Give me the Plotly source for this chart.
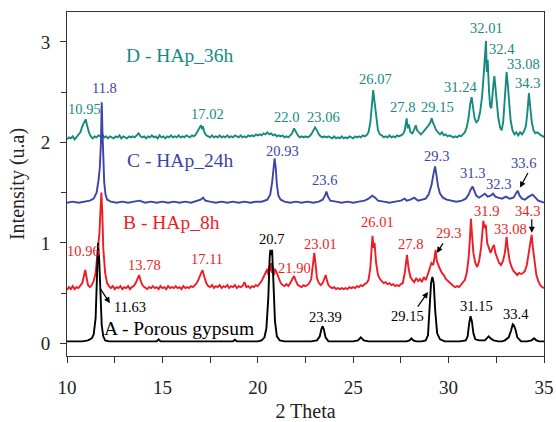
import plotly.graph_objects as go

# ---------------- data ----------------
# A - Porous gypsum (black)
A_x = [10.0, 10.4, 10.8, 11.1, 11.3, 11.4, 11.5, 11.56, 11.63, 11.69, 11.75, 11.82, 11.9, 12.0, 12.2, 12.6,
       13.0, 13.5, 14.0, 14.5, 14.7, 14.8, 14.9, 15.3, 15.8, 16.3, 16.8, 17.3, 17.8, 18.3, 18.7, 18.8, 18.9,
       19.3, 19.7, 20.0, 20.2, 20.35, 20.45, 20.55, 20.62, 20.66, 20.7, 20.75, 20.82, 20.9, 21.0, 21.15, 21.4,
       21.8, 22.3, 22.8, 23.1, 23.25, 23.33, 23.39, 23.46, 23.55, 23.7, 24.0, 24.5, 25.0, 25.25, 25.4, 25.55,
       25.8, 26.3, 26.8, 27.3, 27.8, 27.95, 28.05, 28.15, 28.3, 28.6, 28.8, 28.92, 29.02, 29.08, 29.15, 29.22,
       29.3, 29.4, 29.55, 29.8, 30.2, 30.6, 30.9, 31.0, 31.08, 31.15, 31.22, 31.3, 31.4, 31.6, 31.9, 32.0,
       32.1, 32.2, 32.35, 32.6, 32.8, 32.95, 33.15, 33.28, 33.36, 33.42, 33.5, 33.6, 33.8, 34.1, 34.35, 34.48,
       34.6, 34.75, 35.0]
A_y = [0.02, 0.02, 0.02, 0.03, 0.05, 0.09, 0.25, 0.6, 1.0, 0.82, 0.45, 0.18, 0.07, 0.03, 0.02, 0.02,
       0.02, 0.02, 0.02, 0.02, 0.02, 0.04, 0.02, 0.02, 0.02, 0.02, 0.02, 0.02, 0.02, 0.02, 0.02, 0.035, 0.02,
       0.02, 0.02, 0.02, 0.03, 0.06, 0.15, 0.45, 0.85, 0.93, 0.88, 0.93, 0.6, 0.22, 0.07, 0.03, 0.02,
       0.02, 0.02, 0.02, 0.03, 0.07, 0.14, 0.17, 0.14, 0.06, 0.02, 0.02, 0.02, 0.02, 0.03, 0.06, 0.03,
       0.02, 0.02, 0.02, 0.02, 0.02, 0.03, 0.05, 0.03, 0.02, 0.02, 0.03, 0.08, 0.35, 0.6, 0.66, 0.6,
       0.32, 0.1, 0.04, 0.02, 0.02, 0.02, 0.03, 0.07, 0.2, 0.27, 0.22, 0.1, 0.04, 0.03, 0.03, 0.05,
       0.07, 0.05, 0.03, 0.02, 0.02, 0.03, 0.06, 0.13, 0.19, 0.18, 0.14, 0.06, 0.02, 0.02, 0.03, 0.05,
       0.03, 0.02, 0.02]

# B - HAp_8h (red)
B_x = [10.0, 10.1, 10.2, 10.3, 10.4, 10.5, 10.6, 10.7, 10.8, 10.9, 10.96, 11.02, 11.1, 11.2, 11.3, 11.4,
       11.5, 11.6, 11.7, 11.75, 11.8, 11.85, 11.9, 12.0, 12.1, 12.2, 12.3, 12.4, 12.5, 12.6, 12.7, 12.8,
       12.9, 13.0, 13.1, 13.2, 13.3, 13.4, 13.5, 13.6, 13.7, 13.78, 13.85, 13.95, 14.05, 14.2, 14.3, 14.4,
       14.5, 14.6, 14.7, 14.8, 14.9, 15.0, 15.1, 15.2, 15.3, 15.4, 15.5, 15.6, 15.7, 15.8, 15.9, 16.0,
       16.1, 16.2, 16.3, 16.4, 16.5, 16.6, 16.7, 16.8, 16.9, 17.0, 17.1, 17.2, 17.3, 17.4, 17.5, 17.6,
       17.7, 17.8, 17.9, 18.0, 18.1, 18.2, 18.3, 18.4, 18.5, 18.6, 18.7, 18.8, 18.9, 19.0, 19.1, 19.2,
       19.3, 19.4, 19.5, 19.6, 19.7, 19.8, 19.9, 20.0, 20.1, 20.2, 20.3, 20.4, 20.5, 20.55, 20.6, 20.65,
       20.7, 20.75, 20.8, 20.85, 20.9, 21.0, 21.1, 21.2, 21.3, 21.4, 21.5, 21.6, 21.7, 21.8, 21.9, 22.0,
       22.1, 22.2, 22.3, 22.4, 22.5, 22.6, 22.7, 22.8, 22.9, 22.96, 23.02, 23.1, 23.2, 23.3, 23.4, 23.5,
       23.56, 23.62, 23.7, 23.8, 23.9, 24.0, 24.1, 24.2, 24.3, 24.4, 24.5, 24.6, 24.7, 24.8, 24.9, 25.0,
       25.1, 25.2, 25.3, 25.4, 25.5, 25.6, 25.7, 25.8, 25.9, 25.95, 26.01, 26.07, 26.12, 26.2, 26.3, 26.4,
       26.5, 26.6, 26.7, 26.8, 26.9, 27.0, 27.1, 27.2, 27.3, 27.4, 27.5, 27.6, 27.7, 27.76, 27.82, 27.9,
       28.0, 28.1, 28.2, 28.3, 28.4, 28.5, 28.6, 28.7, 28.8, 28.9, 29.0, 29.1, 29.2, 29.27, 29.32, 29.38,
       29.45, 29.55, 29.65, 29.75, 29.85, 29.95, 30.05, 30.15, 30.25, 30.35, 30.45, 30.55, 30.65, 30.75, 30.85, 30.95,
       31.05, 31.12, 31.17, 31.22, 31.3, 31.4, 31.5, 31.6, 31.7, 31.77, 31.82, 31.88, 31.95, 32.02, 32.1, 32.2,
       32.3, 32.38, 32.45, 32.55, 32.65, 32.75, 32.85, 32.95, 33.04, 33.1, 33.2, 33.3, 33.4, 33.5, 33.6, 33.7,
       33.8, 33.9, 34.0, 34.1, 34.2, 34.3, 34.35, 34.42, 34.5, 34.6, 34.7, 34.8, 34.9, 35.0]
B_y = [0.53, 0.56, 0.54, 0.57, 0.54, 0.56, 0.55, 0.57, 0.6, 0.68, 0.73, 0.66, 0.58, 0.56, 0.58, 0.62,
       0.7, 0.9, 1.1, 1.3, 1.5, 1.3, 0.95, 0.7, 0.6, 0.57, 0.55, 0.57, 0.54, 0.56, 0.55, 0.57,
       0.54, 0.56, 0.55, 0.57, 0.54, 0.56, 0.57, 0.6, 0.65, 0.68, 0.63, 0.58, 0.56, 0.54, 0.56, 0.55,
       0.57, 0.55, 0.56, 0.54, 0.57, 0.55, 0.56, 0.54, 0.57, 0.55, 0.56, 0.55, 0.57, 0.55, 0.56, 0.54,
       0.57, 0.55, 0.56, 0.55, 0.57, 0.56, 0.58, 0.6, 0.64, 0.69, 0.73, 0.66, 0.6, 0.57, 0.56, 0.58,
       0.55, 0.57, 0.56, 0.58, 0.55, 0.57, 0.56, 0.58, 0.55, 0.57, 0.56, 0.58, 0.55, 0.57, 0.56, 0.57,
       0.61, 0.56, 0.57, 0.55, 0.57, 0.56, 0.58, 0.57, 0.59, 0.62, 0.66, 0.7, 0.74, 0.68, 0.77, 0.72,
       0.8, 0.7, 0.76, 0.68, 0.74, 0.7, 0.64, 0.6, 0.58, 0.57, 0.59, 0.57, 0.6, 0.63, 0.67, 0.62,
       0.58, 0.57, 0.56, 0.58, 0.57, 0.58, 0.6, 0.64, 0.78, 0.9, 0.8, 0.65, 0.6, 0.58, 0.6, 0.65,
       0.68, 0.63, 0.58, 0.56, 0.55, 0.56, 0.54, 0.55, 0.54, 0.55, 0.54, 0.55, 0.54, 0.56, 0.55, 0.56,
       0.55, 0.57, 0.56, 0.58, 0.57, 0.59, 0.6, 0.63, 0.75, 0.9, 1.07, 0.95, 1.0, 0.8, 0.68, 0.64,
       0.62, 0.6, 0.61, 0.59, 0.6, 0.58, 0.59, 0.57, 0.58, 0.57, 0.59, 0.6, 0.7, 0.82, 0.88, 0.75,
       0.66, 0.63, 0.61, 0.65, 0.62, 0.64, 0.61, 0.66, 0.63, 0.68, 0.73, 0.8, 0.78, 0.86, 0.93, 0.82,
       0.78, 0.74, 0.7, 0.68, 0.64, 0.62, 0.6, 0.58, 0.57, 0.56, 0.57, 0.56, 0.58, 0.6, 0.63, 0.7,
       0.85, 1.05, 1.24, 1.1, 0.9, 0.8, 0.76, 0.82, 0.95, 1.1, 1.22, 1.15, 1.18, 1.0, 0.95, 0.9,
       0.95, 0.98, 0.9, 0.85, 0.8, 0.78, 0.82, 0.9, 1.06, 0.95, 0.82, 0.76, 0.72, 0.7, 0.68, 0.7,
       0.69, 0.7, 0.72, 0.78, 0.9, 1.02, 1.08, 0.95, 0.8, 0.68, 0.62, 0.58, 0.56, 0.55]

# C - HAp_24h (blue)
C_x = [10.0, 10.3, 10.6, 10.9, 11.2, 11.4, 11.55, 11.65, 11.72, 11.78, 11.82, 11.86, 11.9, 11.95, 12.02, 12.1,
       12.3, 12.6, 12.9, 13.2, 13.5, 13.8, 14.1, 14.4, 14.7, 15.0, 15.3, 15.6, 15.9, 16.2, 16.5, 16.8,
       17.0, 17.13, 17.25, 17.5, 17.8, 18.1, 18.4, 18.7, 19.0, 19.3, 19.6, 19.9, 20.2, 20.5, 20.65, 20.75,
       20.82, 20.88, 20.94, 21.0, 21.08, 21.2, 21.4, 21.7, 22.0, 22.3, 22.6, 22.9, 23.2, 23.4, 23.52, 23.6,
       23.68, 23.8, 24.1, 24.4, 24.7, 25.0, 25.3, 25.6, 25.8, 26.0, 26.15, 26.3, 26.6, 26.9, 27.2, 27.5,
       27.7, 27.8, 28.0, 28.2, 28.4, 28.6, 28.8, 28.95, 29.1, 29.2, 29.29, 29.36, 29.45, 29.55, 29.7, 29.9,
       30.1, 30.4, 30.7, 30.9, 31.05, 31.15, 31.26, 31.35, 31.45, 31.6, 31.75, 31.9, 32.05, 32.2, 32.33, 32.45,
       32.6, 32.8, 33.0, 33.2, 33.4, 33.52, 33.62, 33.72, 33.85, 34.0, 34.2, 34.4, 34.55, 34.7, 34.85, 35.0]
C_y = [1.40, 1.41, 1.40, 1.41, 1.42, 1.44, 1.5, 1.62, 1.75, 2.0, 2.40, 2.1, 1.8, 1.6, 1.48, 1.43,
       1.41, 1.40, 1.41, 1.40, 1.41, 1.42, 1.40, 1.41, 1.40, 1.41, 1.40, 1.41, 1.40, 1.41, 1.40, 1.42,
       1.43, 1.45, 1.42, 1.41, 1.40, 1.41, 1.40, 1.41, 1.40, 1.41, 1.40, 1.41, 1.41, 1.43, 1.48, 1.6,
       1.75, 1.84, 1.75, 1.58, 1.47, 1.43, 1.41, 1.40, 1.41, 1.40, 1.41, 1.40, 1.41, 1.43, 1.47, 1.51,
       1.46, 1.42, 1.41, 1.40, 1.41, 1.40, 1.41, 1.42, 1.44, 1.47, 1.45, 1.42, 1.41, 1.40, 1.41, 1.42,
       1.44, 1.42, 1.43, 1.45, 1.42, 1.43, 1.44, 1.48, 1.57, 1.68, 1.76, 1.68, 1.56, 1.49, 1.45, 1.43,
       1.42, 1.41, 1.42, 1.44, 1.48, 1.53, 1.56, 1.52, 1.47, 1.45, 1.47, 1.49, 1.46, 1.47, 1.49, 1.46,
       1.45, 1.44, 1.46, 1.44, 1.45, 1.49, 1.52, 1.47, 1.44, 1.43, 1.46, 1.48, 1.45, 1.42, 1.41, 1.40]

# D - HAp_36h (teal)
D_x = [10.0, 10.1, 10.2, 10.3, 10.4, 10.5, 10.6, 10.7, 10.8, 10.9, 10.98, 11.05, 11.15, 11.25, 11.35, 11.45,
       11.55, 11.65, 11.75, 11.85, 11.95, 12.05, 12.15, 12.25, 12.35, 12.45, 12.55, 12.65, 12.75, 12.85, 12.95, 13.05,
       13.15, 13.25, 13.35, 13.45, 13.55, 13.65, 13.75, 13.85, 13.95, 14.05, 14.15, 14.25, 14.35, 14.45, 14.55, 14.65,
       14.75, 14.85, 14.95, 15.05, 15.15, 15.25, 15.35, 15.45, 15.55, 15.65, 15.75, 15.85, 15.95, 16.05, 16.15, 16.25,
       16.35, 16.45, 16.55, 16.65, 16.75, 16.85, 16.95, 17.02, 17.08, 17.12, 17.2, 17.3, 17.4, 17.5, 17.6, 17.7,
       17.8, 17.9, 18.0, 18.1, 18.2, 18.3, 18.4, 18.5, 18.6, 18.7, 18.8, 18.9, 19.0, 19.1, 19.2, 19.3,
       19.4, 19.5, 19.6, 19.7, 19.8, 19.9, 20.0, 20.1, 20.2, 20.3, 20.4, 20.5, 20.6, 20.7, 20.8, 20.9,
       21.0, 21.1, 21.2, 21.3, 21.4, 21.5, 21.6, 21.7, 21.8, 21.9, 22.0, 22.1, 22.2, 22.3, 22.4, 22.5,
       22.6, 22.7, 22.8, 22.9, 23.0, 23.1, 23.2, 23.3, 23.4, 23.5, 23.6, 23.7, 23.8, 23.9, 24.0, 24.1,
       24.2, 24.3, 24.4, 24.5, 24.6, 24.7, 24.8, 24.9, 25.0, 25.1, 25.2, 25.3, 25.4, 25.5, 25.6, 25.7,
       25.8, 25.9, 25.97, 26.05, 26.12, 26.2, 26.3, 26.4, 26.5, 26.6, 26.7, 26.8, 26.9, 27.0, 27.1, 27.2,
       27.3, 27.4, 27.5, 27.6, 27.7, 27.8, 27.86, 27.92, 28.0, 28.1, 28.2, 28.28, 28.35, 28.45, 28.55, 28.65,
       28.75, 28.85, 28.95, 29.05, 29.11, 29.18, 29.25, 29.35, 29.45, 29.55, 29.65, 29.75, 29.85, 29.95, 30.05, 30.15,
       30.25, 30.35, 30.45, 30.55, 30.65, 30.75, 30.85, 30.95, 31.05, 31.13, 31.21, 31.28, 31.36, 31.45, 31.55, 31.65,
       31.75, 31.83, 31.9, 31.96, 32.0, 32.05, 32.12, 32.18, 32.24, 32.3, 32.36, 32.4, 32.46, 32.52, 32.6, 32.7,
       32.78, 32.86, 32.93, 32.98, 33.04, 33.1, 33.17, 33.25, 33.35, 33.45, 33.55, 33.65, 33.75, 33.85, 33.95, 34.05,
       34.13, 34.21, 34.28, 34.36, 34.45, 34.55, 34.65, 34.75, 34.85, 34.95, 35.0]
D_y = [2.03, 2.05, 2.04, 2.06, 2.03, 2.05, 2.07, 2.1, 2.16, 2.21, 2.23, 2.17, 2.1, 2.06, 2.04, 2.06,
       2.05, 2.07, 2.06, 2.08, 2.05, 2.06, 2.04, 2.06, 2.05, 2.04, 2.06, 2.05, 2.07, 2.04, 2.06, 2.05,
       2.04, 2.06, 2.05, 2.06, 2.05, 2.07, 2.09, 2.06, 2.05, 2.06, 2.04, 2.06, 2.05, 2.07, 2.05, 2.06,
       2.04, 2.07, 2.05, 2.06, 2.04, 2.06, 2.05, 2.07, 2.05, 2.06, 2.05, 2.07, 2.05, 2.06, 2.05, 2.07,
       2.06, 2.05, 2.07, 2.06, 2.08, 2.11, 2.15, 2.17, 2.13, 2.16, 2.1, 2.07, 2.06, 2.05, 2.07, 2.05,
       2.06, 2.05, 2.07, 2.05, 2.06, 2.05, 2.07, 2.05, 2.06, 2.05, 2.07, 2.06, 2.05, 2.07, 2.05, 2.06,
       2.05, 2.07, 2.06, 2.07, 2.06, 2.08, 2.07, 2.08, 2.07, 2.09, 2.08, 2.1, 2.08, 2.09, 2.07, 2.08,
       2.06, 2.07, 2.06, 2.07, 2.05, 2.06, 2.05, 2.07, 2.09, 2.14, 2.1, 2.07, 2.05, 2.06, 2.05, 2.06,
       2.05, 2.06, 2.08, 2.12, 2.15, 2.12, 2.08, 2.06, 2.05, 2.06, 2.05, 2.06, 2.05, 2.04, 2.06, 2.04,
       2.05, 2.04, 2.06, 2.04, 2.05, 2.04, 2.06, 2.05, 2.04, 2.06, 2.05, 2.06, 2.05, 2.07, 2.06, 2.07,
       2.1, 2.2, 2.38, 2.52, 2.4, 2.25, 2.12, 2.08, 2.07, 2.05, 2.06, 2.05, 2.07, 2.05, 2.06, 2.05,
       2.07, 2.06, 2.07, 2.08, 2.12, 2.24, 2.14, 2.18, 2.1, 2.09, 2.13, 2.17, 2.12, 2.1, 2.08, 2.1,
       2.12, 2.14, 2.17, 2.2, 2.24, 2.2, 2.16, 2.12, 2.1, 2.08, 2.1, 2.07, 2.08, 2.06, 2.07, 2.06,
       2.05, 2.06, 2.05, 2.07, 2.06, 2.08, 2.1, 2.15, 2.25, 2.38, 2.45, 2.35, 2.24, 2.2, 2.22, 2.3,
       2.45, 2.65, 2.85, 3.01, 2.7, 2.82, 2.5, 2.36, 2.34, 2.5, 2.6, 2.66, 2.55, 2.4, 2.25, 2.15,
       2.12, 2.2, 2.4, 2.58, 2.7, 2.58, 2.4, 2.22, 2.12, 2.08, 2.1, 2.07, 2.1, 2.08, 2.11, 2.16,
       2.3, 2.49, 2.35, 2.2, 2.12, 2.09, 2.1, 2.08, 2.07, 2.06, 2.05]

# peak labels: (text, x, y)
D_labels = [("10.95", 10.94, 2.33), ("17.02", 17.34, 2.28), ("22.0", 21.53, 2.25), ("23.06", 23.42, 2.25),
            ("26.07", 26.19, 2.63), ("27.8", 27.56, 2.35), ("29.15", 29.44, 2.35), ("31.24", 30.6, 2.55),
            ("32.01", 32.01, 3.14), ("32.4", 32.8, 2.93), ("33.08", 33.95, 2.78), ("34.3", 34.16, 2.59)]
C_labels = [("11.8", 11.99, 2.54), ("20.93", 21.27, 1.91), ("23.6", 23.52, 1.63), ("29.3", 29.34, 1.86),
            ("31.3", 31.23, 1.70), ("32.3", 32.64, 1.59), ("33.6", 33.95, 1.80)]
B_labels = [("10.96", 10.89, 0.92), ("13.78", 14.04, 0.78), ("17.11", 17.34, 0.84), ("21.90", 21.9, 0.75),
            ("23.01", 23.26, 0.99), ("26.01", 26.25, 1.21), ("27.8", 27.98, 0.99), ("29.3", 30.02, 1.10),
            ("31.9", 31.96, 1.32), ("33.08", 33.22, 1.14), ("34.3", 34.16, 1.32)]
A_labels = [("20.7", 20.74, 1.04), ("11.63", 13.3, 0.36), ("23.39", 23.57, 0.26), ("29.15", 27.82, 0.27),
            ("31.15", 31.44, 0.37), ("33.4", 33.53, 0.29)]

# series names: (text, x, y)
series_names = [("D - HAp_36h", 15.92, 2.87), ("C - HAp_24h", 15.92, 1.82),
                ("B - HAp_8h", 15.5, 1.20), ("A - Porous gypsum", 15.87, 0.15)]

# arrows: (head x, head y, tail x, tail y)
arrows = [(33.74, 1.55, 34.2, 1.71), (29.38, 0.90, 29.76, 1.01), (34.36, 1.10, 34.36, 1.25),
          (12.25, 0.40, 11.69, 0.56), (28.92, 0.51, 28.33, 0.35)]

x_ticks = [10, 15, 20, 25, 30, 35]
y_ticks = [0, 1, 2, 3]

# ---------------- figure ----------------
COL_A, COL_B, COL_C, COL_D = "#000000", "#ee1c24", "#3b44a8", "#178a80"
FONT = "Liberation Serif"

fig = go.Figure()
for xs, ys, col in [(D_x, D_y, COL_D), (C_x, C_y, COL_C), (B_x, B_y, COL_B), (A_x, A_y, COL_A)]:
    fig.add_trace(go.Scatter(x=xs, y=ys, mode="lines", line=dict(color=col, width=1.9),
                             showlegend=False, hoverinfo="skip"))

ann = []
for labels, col in [(D_labels, COL_D), (C_labels, COL_C), (B_labels, COL_B), (A_labels, COL_A)]:
    for t, x, y in labels:
        ann.append(dict(text=t, x=x, y=y, xref="x", yref="y", showarrow=False,
                        font=dict(family=FONT, size=14.5, color=col)))
for (t, x, y), col in zip(series_names, [COL_D, COL_C, COL_B, COL_A]):
    ann.append(dict(text=t, x=x, y=y, xref="x", yref="y", showarrow=False,
                    font=dict(family=FONT, size=19.5, color=col)))
for hx, hy, tx, ty in arrows:
    ann.append(dict(text="", x=hx, y=hy, ax=tx, ay=ty, xref="x", yref="y", axref="x", ayref="y",
                    showarrow=True, arrowhead=2, arrowsize=1, arrowwidth=1.2, arrowcolor="#000000"))

fig.update_layout(
    width=556, height=422,
    margin=dict(l=67, r=12, t=12, b=66),
    paper_bgcolor="white", plot_bgcolor="white",
    font=dict(family=FONT, size=19, color="#222222"),
    annotations=ann,
    xaxis=dict(range=[10, 35], tickvals=x_ticks, ticks="outside", ticklen=6, tickwidth=1,
               tickcolor="#333333", showline=True, linecolor="#333333", linewidth=1, mirror=True,
               showgrid=False, zeroline=False, ticklabelstandoff=8, automargin=False,
               minor=dict(dtick=2.5, tick0=10, ticks="outside", ticklen=6, tickcolor="#333333", showgrid=False),
               title=dict(text="2 Theta", font=dict(family=FONT, size=20), standoff=10),
               tickfont=dict(family=FONT, size=19)),
    yaxis=dict(range=[-0.126, 3.298], tickvals=y_ticks, ticks="outside", ticklen=6, tickwidth=1,
               tickcolor="#333333", showline=True, linecolor="#333333", linewidth=1, mirror=True,
               showgrid=False, zeroline=False, ticklabelstandoff=6, automargin=False,
               minor=dict(dtick=0.5, tick0=0, ticks="outside", ticklen=5, tickcolor="#333333", showgrid=False),
               title=dict(text="Intensity (u.a)", font=dict(family=FONT, size=20), standoff=10),
               tickfont=dict(family=FONT, size=19)),
)

fig.write_html("out.html", config={"displayModeBar": False},
               post_script="document.body.style.margin='0';document.body.style.padding='0';"
                           "document.body.style.overflow='hidden';")
